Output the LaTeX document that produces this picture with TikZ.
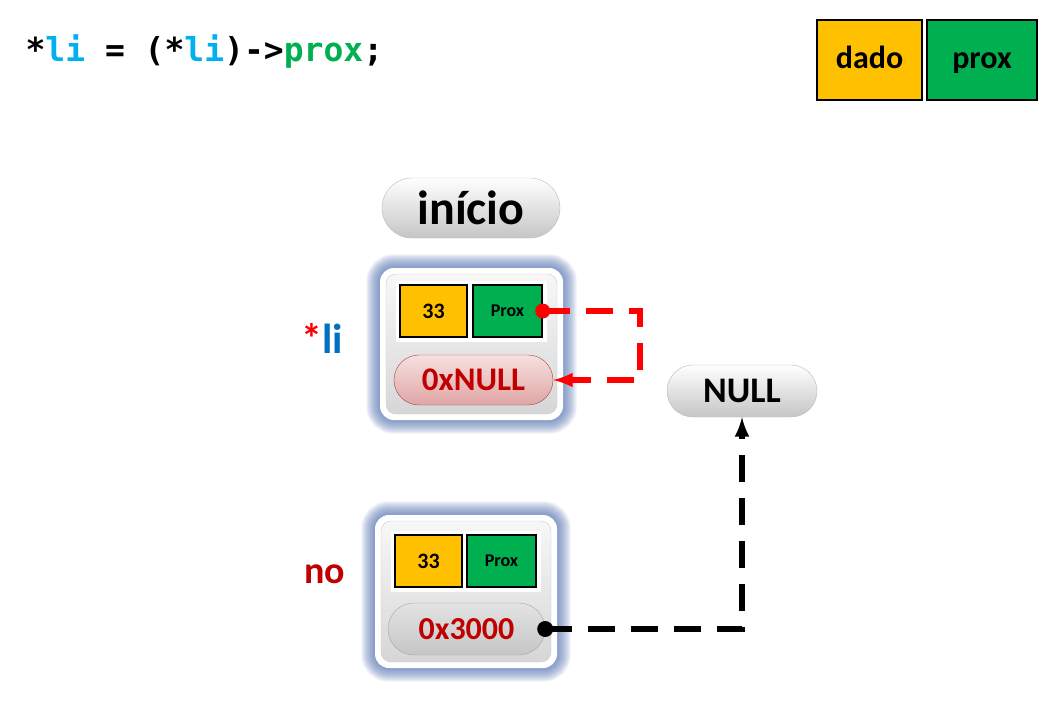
\documentclass[tikz,border=0pt]{standalone}
\usepackage{fontspec}
\setmainfont{Carlito}
\newfontfamily\codefont{DejaVu Sans Mono}
\usepackage{tikz}
\usetikzlibrary{arrows,shapes.misc,shadows,backgrounds}
\definecolor{cyellow}{HTML}{FFC000}
\definecolor{cgreen}{HTML}{00B050}
\definecolor{ccyan}{HTML}{00B0F0}
\definecolor{cblue}{HTML}{0070C0}
\definecolor{cdarkred}{HTML}{C00000}
\definecolor{cglow}{HTML}{4A6AAE}
\definecolor{cpinktop}{RGB}{247,224,224}
\definecolor{cpinkbot}{RGB}{224,165,165}
\definecolor{cpinkline}{RGB}{160,70,70}
\newcommand\fsz[1]{\fontsize{#1}{#1}\selectfont}

\begin{document}
\begin{tikzpicture}[x=1pt,y=-1pt,
	cell/.style={drop shadow={opacity=0.3,shadow xshift=2pt,shadow yshift=-3pt},
		preaction={draw=white,line width=9pt},draw=black,line width=1.6pt,inner sep=0pt,font=\bfseries},
	datacell/.style={cell,fill=cyellow},
	nextcell/.style={cell,fill=cgreen},
	pill/.style={rounded rectangle,draw=gray!55,top color=white,bottom color=gray!45,inner sep=0pt,font=\bfseries},
	frame/.style={rounded corners=14pt,fill=white,inner sep=0pt},
	well/.style={rounded corners=10pt,draw=gray!40,top color=gray!6,bottom color=gray!32,inner sep=0pt},
	link/.style={line width=5.5pt,dash pattern=on 27pt off 16pt}]
		\useasboundingbox (0,0) rectangle (1063,725);
%		\draw[help lines] (0,0) grid[step=50pt] (1063,725);
		\path (22,62) coordinate (code_pos);
		\path (869.5,60) coordinate (key_dado);
		\path (982,60) coordinate (key_prox);
		\path (471,208) coordinate (inicio_pos);

		\path (471.5,344) coordinate (box1_c);
		\path (433.5,311) coordinate (dado1_c);
		\path (507.5,311) coordinate (prox1_c);
		\path (473.5,380) coordinate (addr1_c);
		\path (298,353) coordinate (li_pos);
		\path (640,345) coordinate (red_turn);

		\path (742,391) coordinate (null_pos);

		\path (466,591.5) coordinate (box2_c);
		\path (428.5,561) coordinate (dado2_c);
		\path (501.5,561) coordinate (prox2_c);
		\path (466.5,629) coordinate (addr2_c);
		\path (301,583) coordinate (no_pos);

		\node[anchor=base west] (code) at (code_pos) {\codefont\bfseries\fsz{33}*\textcolor{ccyan}{li} = (*\textcolor{ccyan}{li})->\textcolor{cgreen}{prox};};

		\node[datacell,minimum width=105pt,minimum height=80pt] (legend_dado) at (key_dado) {\fsz{32}dado\vphantom{p}};
		\node[nextcell,minimum width=110pt,minimum height=80pt] (legend_prox) at (key_prox) {\fsz{32}prox\vphantom{d}};

		\node[pill,minimum width=178pt,minimum height=60pt] (inicio) at (inicio_pos) {\fsz{48}início};

		\node[frame,minimum width=183pt,minimum height=152pt] (box1) at (box1_c) {};
		\node[well,minimum width=171pt,minimum height=140pt] (well1) at (box1_c) {};
		\node[datacell,line width=1.4pt,minimum width=67pt,minimum height=52pt] (dado1) at (dado1_c) {\fsz{22}33};
		\node[nextcell,line width=1.4pt,minimum width=69pt,minimum height=52pt] (prox1) at (prox1_c) {\fsz{18}Prox};
		\node[pill,draw=cpinkline,top color=cpinktop,bottom color=cpinkbot,text=cdarkred,minimum width=159pt,minimum height=50pt] (addr1) at (addr1_c) {\fsz{33}0xNULL};
		\node[anchor=base west] (star_li) at (li_pos) {\bfseries\fsz{42}\textcolor{red}{*}\textcolor{cblue}{li}};

		\node[pill,minimum width=150pt,minimum height=52pt] (null) at (null_pos) {\fsz{36}NULL};

		\node[frame,minimum width=182pt,minimum height=153pt] (box2) at (box2_c) {};
		\node[well,minimum width=170pt,minimum height=141pt] (well2) at (box2_c) {};
		\node[datacell,line width=1.4pt,minimum width=67pt,minimum height=52pt] (dado2) at (dado2_c) {\fsz{22}33};
		\node[nextcell,line width=1.4pt,minimum width=69pt,minimum height=52pt] (prox2) at (prox2_c) {\fsz{18}Prox};
		\node[pill,draw=gray!70,top color=gray!22,bottom color=gray!45,text=cdarkred,minimum width=157pt,minimum height=52pt] (addr2) at (addr2_c) {\fsz{32}0x3000};
		\node[anchor=base west,text=cdarkred] (no_label) at (no_pos) {\bfseries\fsz{38}no};

		\draw[link,red,-latex] (prox1.east) -| (red_turn) |- (addr1.east);
		\fill[red] (prox1.east) circle (7.5pt);

		\draw[link,black,-latex] (addr2.east) -| (null.south);
		\fill[black] (addr2.east) circle (8pt);

		\begin{scope}[on background layer]
			\fill[white] (0,0) rectangle (1063,725);
			\foreach \b in {box1,box2}
				\foreach \w in {3,6,...,27}
					\draw[cglow,opacity=0.1,line width=\w pt,rounded corners=14pt] (\b.south west) rectangle (\b.north east);
		\end{scope}
	\end{tikzpicture}
\end{document}
